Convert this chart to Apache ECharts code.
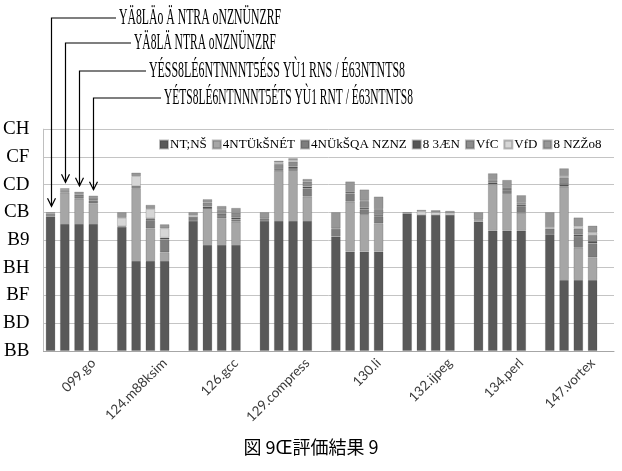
<!DOCTYPE html>
<html><head><meta charset="utf-8">
<script src="https://cdn.jsdelivr.net/npm/echarts@6/dist/echarts.min.js"></script>
<style>html,body{margin:0;padding:0;background:#fff}#c{width:622px;height:471px}</style>
</head><body><div id="c"></div>
<script>
// ---- data ----
const groups = ["099.go","124.m88ksim","126.gcc","129.compress","130.li","132.ijpeg","134.perl","147.vortex"];
const seriesNames = ["NT;NŠ","4NTÜkŠNÉT","4NÜkŠQA NZNZ","8 3ÆN","VfC","VfD","8 NZŽo8"];
const yTickLabels = ["BB","BD","BF","BH","B9","CB","CD","CF","CH"];
// 8 groups x 4 bars each
const s1 = [0.970,0.915,0.915,0.915, 0.895,0.648,0.648,0.648, 0.937,0.764,0.764,0.764, 0.937,0.937,0.937,0.937,
            0.824,0.716,0.716,0.716, 0.990,0.980,0.980,0.980, 0.932,0.867,0.867,0.867, 0.842,0.511,0.511,0.511];
const s2 = [0,0.227,0.183,0.150, 0,0.525,0.236,0.063, 0,0.260,0.193,0.168, 0,0.363,0.361,0.176,
            0,0.361,0.265,0.204, 0,0,0,0, 0.012,0.335,0.265,0.130, 0,0.674,0.233,0.164];
const s3 = [0.010,0.010,0.020,0.020, 0.005,0.004,0.060,0.094, 0.030,0,0.017,0.017, 0.020,0,0.015,0.060,
            0.056,0.060,0.041,0.048, 0.010,0,0,0, 0.006,0,0.029,0.043, 0.041,0,0.079,0.101];
const s4 = [0,0.005,0.010,0.010, 0,0.012,0.012,0.012, 0,0.017,0.014,0.014, 0,0.012,0.016,0.012,
            0,0.010,0.010,0.012, 0,0,0,0, 0,0.014,0.014,0.014, 0,0.017,0.017,0.017];
const s5 = [0.010,0.008,0.010,0.015, 0,0,0,0, 0,0.029,0.029,0.034, 0,0.036,0.036,0.036,
            0.004,0,0.048,0.043, 0,0,0,0, 0,0.017,0,0.014, 0,0.050,0.043,0.043];
const s6 = [0,0,0,0, 0.060,0.072,0.068,0.067, 0.012,0,0,0, 0,0.012,0.012,0,
            0,0,0.004,0, 0,0.025,0.020,0.015, 0,0,0,0, 0.010,0.010,0.017,0.017];
const s7 = [0.010,0.008,0.010,0.010, 0.040,0.025,0.029,0.029, 0.021,0.024,0.028,0.034, 0.043,0.012,0.013,0.019,
            0.116,0.075,0.080,0.090, 0,0.012,0.015,0.015, 0.050,0.048,0.058,0.055, 0.107,0.055,0.062,0.050];
const annotationTexts = ["YÄ8LÄo Ä NTRA oNZNÜNZRF","YÄ8LÄ NTRA oNZNÜNZRF",
                         "YÉSS8LÉ6NTNNNT5ÉSS YÙ1 RNS / É63NTNTS8","YÉTS8LÉ6NTNNNT5ÉTS YÙ1 RNT / É63NTNTS8"];
const caption = "図 9Œ評価結果 9";

// ---- build ----
const seriesData = [s1,s2,s3,s4,s5,s6,s7];
const colors = ["#595959","#a6a6a6","#7d7d7d","#555555","#8c8c8c","#d6d6d6","#979797"];
const barsPerGroup = 4, slotsPerGroup = 5;
const slotIds = [];
for (let g = 0; g < groups.length; g++) for (let k = 0; k < slotsPerGroup; k++) slotIds.push(g + "_" + k);
function toSlots(arr) {
  const out = [];
  for (let g = 0; g < groups.length; g++) {
    for (let b = 0; b < barsPerGroup; b++) { const v = arr[g*barsPerGroup+b]; out.push(v ? v : null); }
    out.push(null);
  }
  return out;
}
const chart = echarts.init(document.getElementById('c'), null, {renderer:'canvas', width:622, height:471});
const option = {
  animation: false,
  backgroundColor: '#fff',
  grid: {left: 40, right: 8, top: 129.2, bottom: 120.2, containLabel: false},
  legend: {
    top: 133, left: 154, width: 600, itemWidth: 8, itemHeight: 8, itemGap: 5, icon: 'rect',
    textStyle: {fontFamily: 'Liberation Serif', fontSize: 13, color: '#000', padding: [0,0,0,-3]},
    data: seriesNames
  },
  xAxis: {
    type: 'category', data: slotIds,
    axisTick: {show: false},
    axisLine: {lineStyle: {color: '#a6a6a6', width: 1}},
    axisLabel: {interval: 0, rotate: 45, margin: 10, fontFamily: 'Lato', fontSize: 13.5, color: '#3a3a3a',
      formatter: (v, i) => (i % slotsPerGroup === 3 ? groups[Math.floor(i / slotsPerGroup)] : '')}
  },
  yAxis: {
    type: 'value', min: 0, max: 1.6, interval: 0.2,
    axisLine: {show: true, lineStyle: {color: '#bfbfbf'}},
    axisTick: {show: false},
    splitLine: {lineStyle: {color: '#c4c4c4'}},
    axisLabel: {margin: 14, fontFamily: 'Liberation Serif', fontSize: 19, color: '#000',
      formatter: v => yTickLabels[Math.round(v / 0.2)]}
  },
  series: seriesData.map((arr, i) => ({
    name: seriesNames[i], type: 'bar', stack: 'total', barCategoryGap: '34%',
    itemStyle: {color: colors[i], borderColor: 'rgba(60,60,60,0.35)', borderWidth: 0.6},
    data: toSlots(arr)
  }))
};
chart.setOption(option);

// ---- annotations (arrows to bars of the first group) ----
const ctx = document.createElement('canvas').getContext('2d');
const annSize = 24, annFamily = 'Liberation Serif';
function measure(text) { ctx.font = annSize + 'px "' + annFamily + '"'; return ctx.measureText(text).width; }
const lineYs = [18, 43, 71, 98];
const textStarts = [119, 134, 149, 164];
const textWidths = [162, 142, 256, 249];
const graphics = [];
for (let b = 0; b < barsPerGroup; b++) {
  let total = 0; seriesData.forEach(a => total += a[b]);
  const p = chart.convertToPixel({xAxisIndex: 0, yAxisIndex: 0}, [b, total]);
  const x = Math.round(p[0]) + 0.5, tip = p[1] - 6, y = lineYs[b];
  graphics.push({type: 'polyline', shape: {points: [[textStarts[b] - 3, y], [x, y], [x, tip]]},
    style: {stroke: '#000', lineWidth: 1.2, fill: null}, silent: true});
  graphics.push({type: 'polyline', shape: {points: [[x - 4, tip - 8], [x, tip], [x + 4, tip - 8]]},
    style: {stroke: '#000', lineWidth: 1.2, fill: null}, silent: true});
  const w = measure(annotationTexts[b]);
  graphics.push({type: 'text', x: textStarts[b], y: y, scaleX: textWidths[b] / w, silent: true,
    style: {text: annotationTexts[b], x: 0, y: 0, fontSize: annSize, fontFamily: annFamily, fill: '#000',
      textAlign: 'left', textVerticalAlign: 'middle', align: 'left', verticalAlign: 'middle'}});
}
graphics.push({type: 'text', x: 311, y: 447, silent: true,
  style: {text: caption, x: 0, y: 0, fontSize: 18, fontFamily: 'Noto Sans CJK JP', fill: '#000',
    textAlign: 'center', textVerticalAlign: 'middle', align: 'center', verticalAlign: 'middle'}});
chart.setOption({graphic: graphics});
</script>
</body></html>
